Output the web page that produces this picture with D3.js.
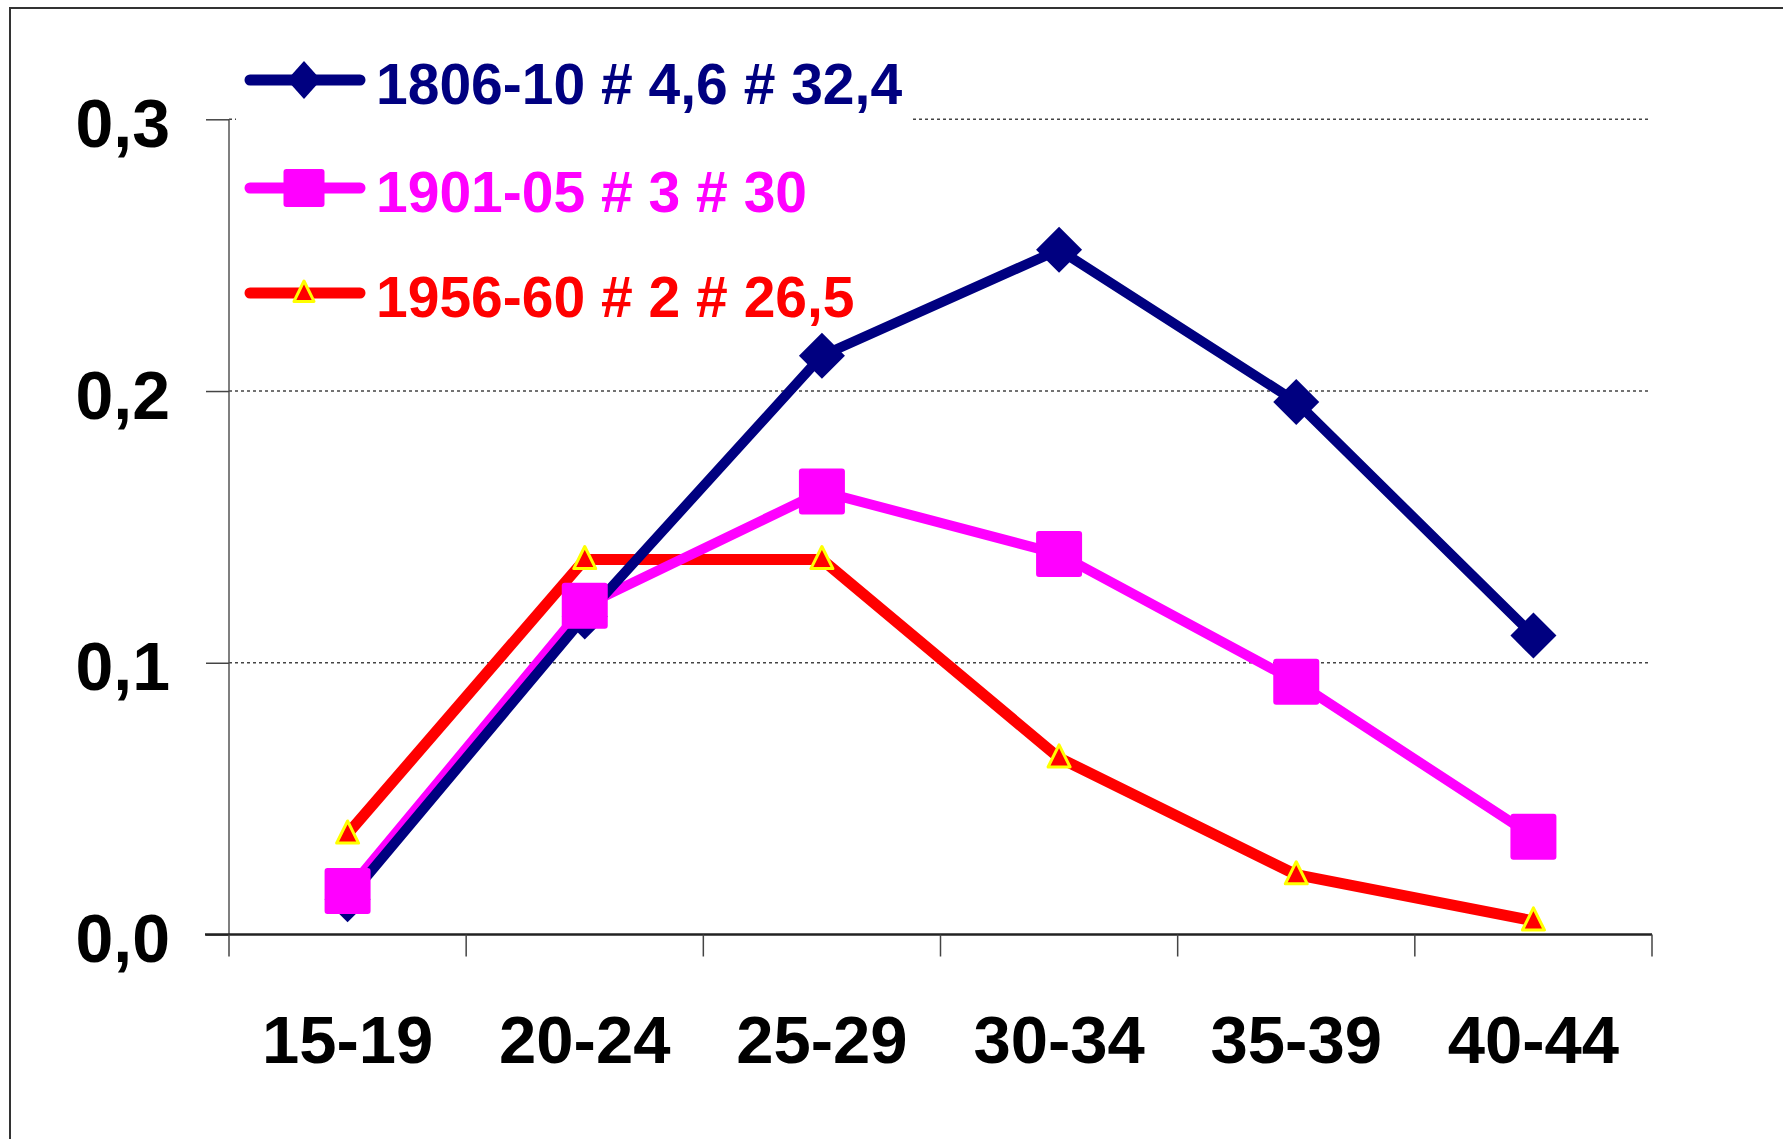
<!DOCTYPE html>
<html>
<head>
<meta charset="utf-8">
<script src="https://cdn.jsdelivr.net/npm/d3@7"></script>
<style>
  body { margin: 0; background: #fff; }
  svg { display: block; }
</style>
</head>
<body>
<script>
// age groups and series
const ageGroups = ['15-19', '20-24', '25-29', '30-34', '35-39', '40-44'];
const y1806 = [0.013, 0.117, 0.213, 0.252, 0.196, 0.110];
const y1901 = [0.016, 0.121, 0.163, 0.140, 0.093, 0.036];
const y1956 = [0.037, 0.138, 0.138, 0.065, 0.022, 0.005];
const seriesNames = ['1806-10 # 4,6 # 32,4', '1901-05 # 3 # 30', '1956-60 # 2 # 26,5'];
const yTicks = [0, 0.1, 0.2, 0.3];

const width = 1783, height = 1139;

const series = [
  {name: seriesNames[0], values: y1806, color: '#000080', marker: 'diamond', lw: 10},
  {name: seriesNames[1], values: y1901, color: '#ff00ff', marker: 'square', lw: 10},
  {name: seriesNames[2], values: y1956, color: '#ff0000', marker: 'triangle', lw: 11}
];

const svg = d3.select('body')
  .append('svg')
  .attr('width', width)
  .attr('height', height);

// frame
svg.append('path')
  .attr('d', `M10,${height} L10,8 L${width},8`)
  .attr('fill', 'none')
  .attr('stroke', '#333')
  .attr('stroke-width', 2);

const x = d3.scaleBand().domain(ageGroups).range([229, 1652]);
const y = d3.scaleLinear().domain([0, 0.3]).range([934.5, 119.3]);
const cx = d => x(d) + x.bandwidth() / 2;

// grid
svg.append('g')
  .selectAll('line')
  .data(yTicks.filter(t => t > 0))
  .enter()
  .append('line')
  .attr('x1', 229)
  .attr('x2', 1649)
  .attr('y1', d => y(d))
  .attr('y2', d => y(d))
  .attr('stroke', '#444')
  .attr('stroke-width', 1.5)
  .attr('stroke-dasharray', '3,3');

// legend background hides the top grid line under the legend
svg.append('rect')
  .attr('x', 236).attr('y', 45)
  .attr('width', 676).attr('height', 290)
  .attr('fill', '#fff');

// y axis
const yAxis = svg.append('g')
  .attr('transform', 'translate(229,0)')
  .call(d3.axisLeft(y)
    .tickValues(yTicks)
    .tickSize(23)
    .tickPadding(36)
    .tickFormat(d => d3.format('.1f')(d).replace('.', ',')));
yAxis.select('.domain').attr('stroke', '#555').attr('stroke-width', 1.5).attr('d', `M0,${y(0.3)}V${y(0)}`);
yAxis.selectAll('.tick line').attr('stroke', '#444').attr('stroke-width', 1.5);
yAxis.selectAll('.tick text')
  .attr('font-family', 'Liberation Sans, Arial, sans-serif')
  .attr('font-weight', 'bold')
  .attr('font-size', 68)
  .attr('fill', '#000')
  .attr('dy', '0.4em');

// x axis
const xAxis = svg.append('g');
xAxis.append('line')
  .attr('x1', 205).attr('x2', 1652)
  .attr('y1', y(0)).attr('y2', y(0))
  .attr('stroke', '#222').attr('stroke-width', 2.5);
xAxis.selectAll('line.tk')
  .data(ageGroups.map(d => x(d)).concat([x.range()[1]]))
  .enter()
  .append('line')
  .attr('class', 'tk')
  .attr('x1', d => d).attr('x2', d => d)
  .attr('y1', y(0)).attr('y2', y(0) + 22)
  .attr('stroke', '#444').attr('stroke-width', 1.5);
xAxis.selectAll('text')
  .data(ageGroups)
  .enter()
  .append('text')
  .attr('x', d => cx(d))
  .attr('y', 1063)
  .attr('text-anchor', 'middle')
  .attr('font-family', 'Liberation Sans, Arial, sans-serif')
  .attr('font-weight', 'bold')
  .attr('font-size', 67)
  .text(d => d);

// markers
function drawMarker(g, type, px, py, s, color) {
  if (type === 'diamond') {
    g.append('path')
      .attr('d', `M${px},${py - s.h} L${px + s.w},${py} L${px},${py + s.h} L${px - s.w},${py} Z`)
      .attr('fill', color);
  } else if (type === 'square') {
    g.append('rect')
      .attr('x', px - s.w).attr('y', py - s.h)
      .attr('width', 2 * s.w).attr('height', 2 * s.h)
      .attr('rx', 3)
      .attr('fill', color);
  } else {
    g.append('path')
      .attr('d', `M${px},${py - s.h} L${px + s.w},${py + s.h * 0.7} L${px - s.w},${py + s.h * 0.7} Z`)
      .attr('fill', color)
      .attr('stroke', '#ffff00')
      .attr('stroke-width', 3)
      .attr('stroke-linejoin', 'round');
  }
}

const plotSizes = {diamond: {w: 23, h: 23}, square: {w: 23, h: 23}, triangle: {w: 11, h: 13}};

const line = d3.line()
  .x((d, i) => cx(ageGroups[i]))
  .y(d => y(d));

const plot = svg.append('g');
[series[2], series[1], series[0]].forEach(s => {
  plot.append('path')
    .datum(s.values)
    .attr('d', line)
    .attr('fill', 'none')
    .attr('stroke', s.color)
    .attr('stroke-width', s.lw)
    .attr('stroke-linejoin', 'round');
});
series.forEach(s => {
  const g = plot.append('g');
  s.values.forEach((v, i) => drawMarker(g, s.marker, cx(ageGroups[i]), y(v), plotSizes[s.marker], s.color));
});

// legend
const legend = svg.append('g');
const legendSizes = {diamond: {w: 17, h: 19}, square: {w: 20.5, h: 19}, triangle: {w: 10, h: 12}};
const legendY = [80, 188, 293];

series.forEach((s, i) => {
  const row = legend.append('g');
  row.append('line')
    .attr('x1', 250).attr('x2', 360)
    .attr('y1', legendY[i]).attr('y2', legendY[i])
    .attr('stroke', s.color)
    .attr('stroke-width', 11)
    .attr('stroke-linecap', 'round');
  drawMarker(row, s.marker, 304, legendY[i], legendSizes[s.marker], s.color);
  row.append('text')
    .attr('x', 376)
    .attr('y', legendY[i] + 24)
    .attr('font-family', 'Liberation Sans, Arial, sans-serif')
    .attr('font-weight', 'bold')
    .attr('font-size', 57)
    .attr('fill', s.color)
    .text(s.name);
});
</script>
</body>
</html>
